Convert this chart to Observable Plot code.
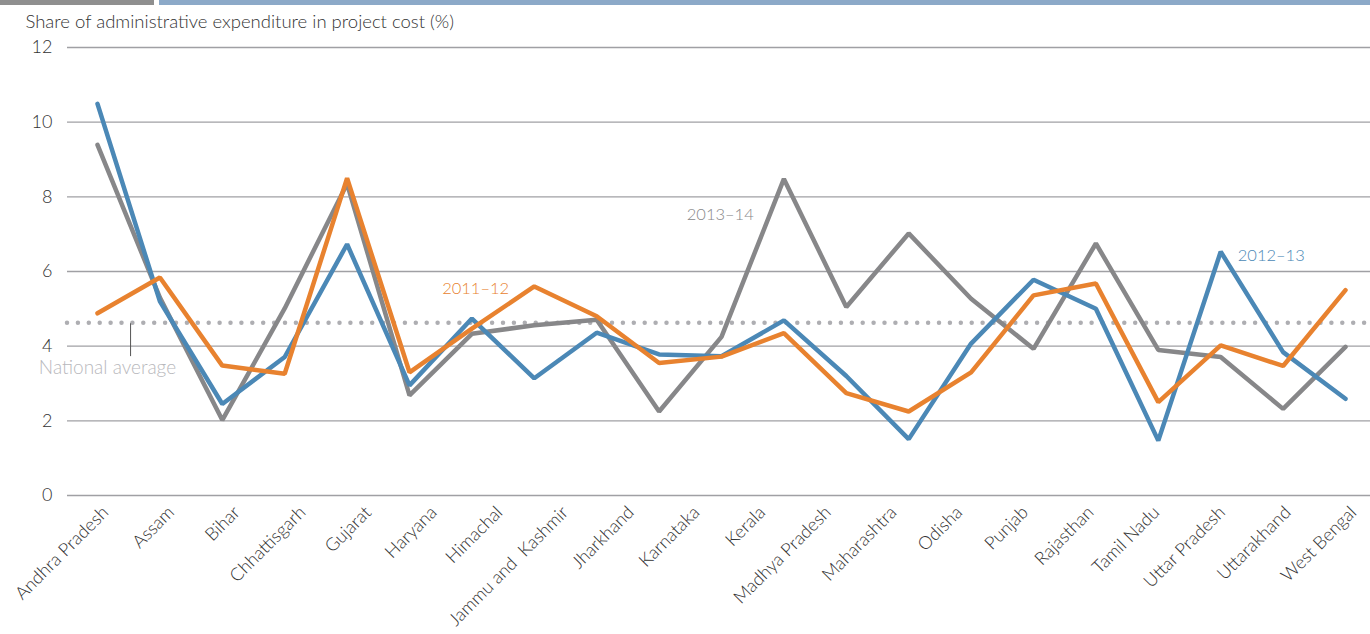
<!DOCTYPE html>
<html>
<head>
<meta charset="utf-8">
<script src="https://cdn.jsdelivr.net/npm/d3@7"></script>
<script src="https://cdn.jsdelivr.net/npm/@observablehq/plot@0.6"></script>
<style>
  html, body { margin: 0; padding: 0; background: #fff; }
  #wrap { position: relative; width: 1370px; height: 634px; overflow: hidden; }
  .bar { position: absolute; top: 0; height: 5px; }
  svg { font-family: Lato, "Noto Sans", sans-serif; }
</style>
</head>
<body>
<div id="wrap">
  <div class="bar" style="left:0;width:154px;background:#8f8f8f"></div>
  <div class="bar" style="left:159px;width:1211px;background:#8ca9c8"></div>
</div>
<script>
// Category labels (x axis)
const states = ["Andhra Pradesh", "Assam", "Bihar", "Chhattisgarh", "Gujarat", "Haryana", "Himachal",
  "Jammu and  Kashmir", "Jharkhand", "Karnataka", "Kerala", "Madhya Pradesh", "Maharashtra", "Odisha",
  "Punjab", "Rajasthan", "Tamil Nadu", "Uttar Pradesh", "Uttarakhand", "West Bengal"];

// Series values, as plotted (21 points per line in the source graphic)
const y2011_12 = [4.88, 5.84, 3.48, 3.26, 8.5, 3.3, 4.47, 5.6, 4.8, 3.55, 3.72, 4.35, 2.74, 2.25, 3.3, 5.36, 5.68, 2.5, 4.02, 3.47, 5.5];
const y2012_13 = [10.49, 5.2, 2.45, 3.71, 6.73, 2.95, 4.74, 3.14, 4.36, 3.78, 3.73, 4.69, 3.2, 1.51, 4.07, 5.78, 5.0, 1.47, 6.53, 3.84, 2.59];
const y2013_14 = [9.39, 5.3, 2.02, 5.01, 8.35, 2.68, 4.33, 4.56, 4.71, 2.25, 4.25, 8.48, 5.05, 7.02, 5.27, 3.93, 6.75, 3.9, 3.71, 2.32, 3.98];

const nationalAverage = 4.63;
const yTicks = [0, 2, 4, 6, 8, 10, 12];
const yTitle = "Share of administrative expenditure in project cost (%)";

const colors = {"2011–12": "#e8822f", "2012–13": "#4b88b6", "2013–14": "#878789"};

const toRows = (arr) => arr.map((v, i) => ({i, v}));
const nPts = y2011_12.length;
const tickPos = states.map((_, j) => j * (nPts - 1) / (states.length - 1));

const labels = [
  {i: 6.06, v: 5.55, t: "2011–12"},
  {i: 9.98, v: 7.51, t: "2013–14"},
  {i: 18.81, v: 6.43, t: "2012–13"}
];

const chart = Plot.plot({
  width: 1370,
  height: 634,
  marginLeft: 67,
  marginRight: 0,
  marginTop: 47,
  marginBottom: 139,
  style: {fontFamily: "Lato, 'Noto Sans', sans-serif", fontSize: "18px", color: "#333"},
  x: {type: "linear", domain: [-30 / 62.4, 20 + 25 / 62.4], axis: null},
  y: {domain: [0, 12], axis: null},
  marks: [
    Plot.ruleY(yTicks, {stroke: "#a0a0a4", strokeWidth: 1.3}),
    Plot.axisY({ticks: yTicks, tickSize: 0, tickPadding: 15, fontSize: 18, fontWeight: 300, label: null, color: "#333"}),
    Plot.axisX({ticks: tickPos, tickFormat: (d) => states[Math.round(d * (states.length - 1) / (nPts - 1))],
      tickSize: 0, tickPadding: 14, tickRotate: -45, fontSize: 18, fontWeight: 300, label: null, dx: 8, color: "#333"}),
    Plot.ruleY([nationalAverage], {stroke: "#aeaeb2", strokeWidth: 4.5, strokeDasharray: "0,10.9", strokeLinecap: "round"}),
    Plot.line(toRows(y2013_14), {x: "i", y: "v", stroke: colors["2013–14"], strokeWidth: 4.5, strokeLinejoin: "miter", strokeLinecap: "round"}),
    Plot.line(toRows(y2012_13), {x: "i", y: "v", stroke: colors["2012–13"], strokeWidth: 4.5, strokeLinejoin: "miter", strokeLinecap: "round"}),
    Plot.line(toRows(y2011_12), {x: "i", y: "v", stroke: colors["2011–12"], strokeWidth: 4.5, strokeLinejoin: "miter", strokeLinecap: "round"}),
    Plot.text(labels, {x: "i", y: "v", text: "t", fill: (d) => colors[d.t], fontSize: 16.5, fontWeight: 300, textAnchor: "middle"}),
    Plot.ruleX([0.53], {y1: 3.72, y2: 4.6, stroke: "#555", strokeWidth: 1}),
    Plot.text([{i: 0.16, v: 3.43}], {x: "i", y: "v", text: () => "National average", fill: "#b8b8bc", fontSize: 19, fontWeight: 300, textAnchor: "middle"}),
    Plot.text([yTitle], {frameAnchor: "top-left", lineAnchor: "middle", dx: -42, dy: -25, textAnchor: "start", fill: "#333", fontSize: 18.5, fontWeight: 300})
  ]
});
document.getElementById("wrap").appendChild(chart);
</script>
</body>
</html>
